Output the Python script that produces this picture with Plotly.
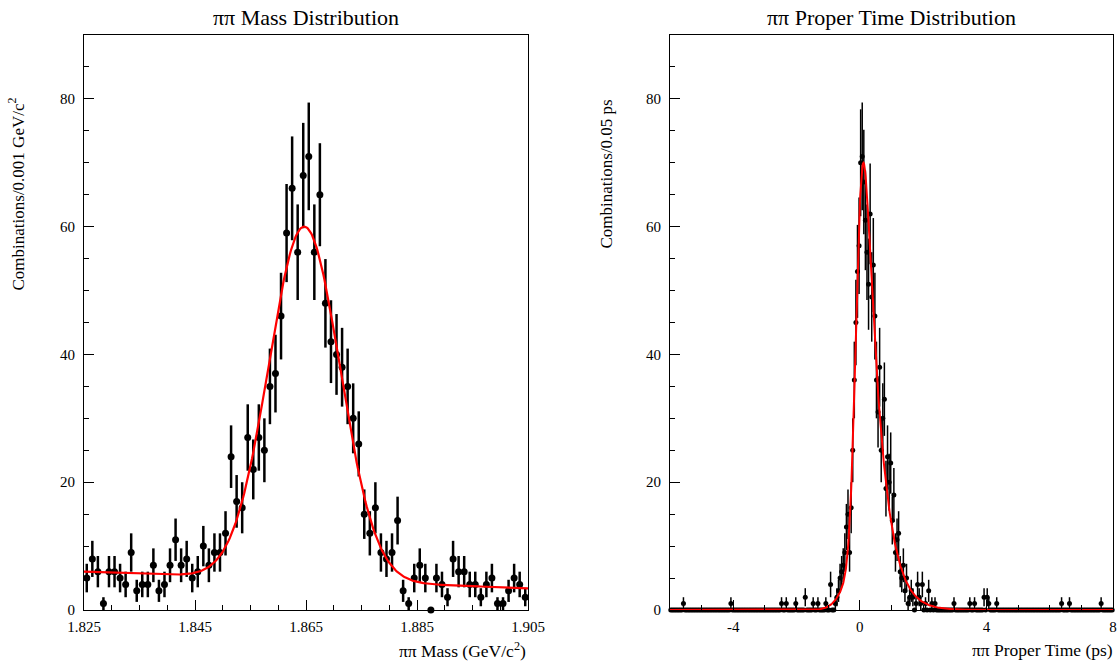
import math
import numpy as np
import plotly.graph_objects as go

# ---------------- data ----------------
# Left: pi-pi mass histogram, 80 bins of 0.001 GeV/c^2 from 1.825 to 1.905
mass_lo, mass_hi, mass_bin = 1.825, 1.905, 0.001
mass_counts = [5, 8, 6, 1, 6, 6, 5, 4, 9, 3,
               4, 4, 7, 3, 4, 7, 11, 7, 8, 5,
               6, 10, 7, 9, 9, 12, 24, 17, 16, 27,
               22, 27, 25, 35, 37, 46, 59, 66, 56, 68,
               71, 56, 65, 48, 42, 40, 38, 35, 30, 26,
               15, 12, 16, 9, 8, 9, 14, 3, 1, 5,
               7, 5, 0, 5, 4, 2, 8, 6, 6, 4,
               4, 2, 4, 5, 1, 1, 3, 5, 4, 2]
mass_ticks = [1.825, 1.845, 1.865, 1.885, 1.905]

# Right: pi-pi proper time histogram, 280 bins of 0.05 ps from -6 to 8
time_lo, time_hi, time_bin = -6.0, 8.0, 0.05
time_counts = [0, 0, 0, 0, 0, 0, 0, 0, 1, 0, 0, 0, 0, 0, 0, 0, 0, 0, 0, 0,
               0, 0, 0, 0, 0, 0, 0, 0, 0, 0, 0, 0, 0, 0, 0, 0, 0, 0, 1, 0,
               0, 0, 0, 0, 0, 0, 0, 0, 0, 0, 0, 0, 0, 0, 0, 0, 0, 0, 0, 0,
               0, 0, 0, 0, 0, 0, 0, 0, 0, 0, 1, 0, 0, 1, 0, 0, 0, 0, 0, 1,
               0, 0, 0, 0, 0, 2, 0, 0, 0, 0, 1, 0, 0, 1, 0, 0, 0, 0, 1, 0,
               0, 4, 0, 0, 1, 2, 3, 5, 6, 7, 9, 13, 15, 9, 16, 25, 36, 45, 53, 57,
               70, 71, 67, 61, 56, 51, 62, 49, 54, 46, 36, 31, 38, 25, 30, 33, 19, 24, 20, 23,
               14, 18, 9, 11, 12, 6, 5, 7, 3, 5, 1, 2, 3, 2, 0, 1, 4, 2, 1, 4,
               0, 1, 0, 3, 0, 1, 0, 1, 0, 0, 0, 0, 0, 0, 0, 0, 0, 0, 0, 1,
               0, 0, 0, 0, 0, 0, 0, 0, 0, 1, 0, 0, 1, 0, 0, 0, 0, 0, 2, 0,
               2, 1, 0, 0, 0, 0, 1, 0, 0, 0, 0, 0, 0, 0, 0, 0, 0, 0, 0, 0,
               0, 0, 0, 0, 0, 0, 0, 0, 0, 0, 0, 0, 0, 0, 0, 0, 0, 0, 0, 0,
               0, 0, 0, 0, 0, 0, 0, 1, 0, 0, 0, 0, 1, 0, 0, 0, 0, 0, 0, 0,
               0, 0, 0, 0, 0, 0, 0, 0, 0, 0, 0, 0, 1, 0, 0, 0, 0, 0, 0, 0]
time_tickvals = [-4, 0, 4, 8]
time_ticktext = ["-4", "0", "4", "8"]

# Fit parameters (gaussian + linear background; resolution-smeared exponential)
mass_fit_amp, mass_fit_mean, mass_fit_sigma = 55.3, 1.8647, 0.0064
mass_fit_bg_lo, mass_fit_bg_hi = 6.0, 3.4
time_fit_peak, time_fit_mu, time_fit_tau = 70.0, -0.08, 0.41
time_fit_sig1, time_fit_sig2, time_fit_frac2 = 0.17, 0.45, 0.25

# ---------------- derived ----------------
mass_centers = mass_lo + mass_bin * (np.arange(len(mass_counts)) + 0.5)
time_centers = time_lo + time_bin * (np.arange(len(time_counts)) + 0.5)
mass_err = np.sqrt(np.array(mass_counts, dtype=float))
time_err = np.sqrt(np.array(time_counts, dtype=float))

mx = np.linspace(mass_lo, mass_hi, 400)
my = (mass_fit_bg_lo + (mass_fit_bg_hi - mass_fit_bg_lo) * (mx - mass_lo) / (mass_hi - mass_lo)
      + mass_fit_amp * np.exp(-0.5 * ((mx - mass_fit_mean) / mass_fit_sigma) ** 2))

erfc = np.frompyfunc(math.erfc, 1, 1)


def exgauss(t, mu, s, tau):
    z = (t - mu)
    arg = (s / tau - z / s) / math.sqrt(2)
    expo = np.clip(s * s / (2 * tau * tau) - z / tau, -700, 700)
    return 0.5 / tau * np.exp(expo) * erfc(arg).astype(float)


tx = np.linspace(time_lo, time_hi, 1400)
ty = ((1 - time_fit_frac2) * exgauss(tx, time_fit_mu, time_fit_sig1, time_fit_tau)
      + time_fit_frac2 * exgauss(tx, time_fit_mu, time_fit_sig2, time_fit_tau))
ty = ty / ty.max() * time_fit_peak

# ---------------- figure ----------------
W, H = 1120, 665
FONT = "Liberation Serif"

fig = go.Figure()
fig.add_trace(go.Scatter(
    x=mass_centers, y=mass_counts, mode="markers", xaxis="x", yaxis="y",
    marker=dict(color="black", size=7),
    error_y=dict(type="data", array=mass_err, color="black", thickness=2.5, width=0),
    cliponaxis=False, showlegend=False, hoverinfo="x+y"))
fig.add_trace(go.Scatter(
    x=mx, y=my, mode="lines", xaxis="x", yaxis="y",
    line=dict(color="#ff0000", width=2.2), showlegend=False))

fig.add_trace(go.Scatter(
    x=time_centers, y=time_counts, mode="markers", xaxis="x2", yaxis="y2",
    marker=dict(color="black", size=5),
    error_y=dict(type="data", array=time_err, color="black", thickness=1.5, width=0),
    cliponaxis=False, showlegend=False, hoverinfo="x+y"))
fig.add_trace(go.Scatter(
    x=tx, y=ty, mode="lines", xaxis="x2", yaxis="y2",
    line=dict(color="#ff0000", width=2), showlegend=False))

ydom = [(H - 610) / H, (H - 35) / H]
axis_common = dict(showline=True, linecolor="black", linewidth=1, mirror=True,
                   showgrid=False, zeroline=False, ticks="inside", tickcolor="black",
                   tickwidth=1, automargin=False,
                   tickfont=dict(family=FONT, size=15, color="black"))
minor_y = dict(ticks="inside", ticklen=5, tickcolor="black",
               tickmode="linear", tick0=0, dtick=5)

fig.update_layout(
    template="none",
    width=W, height=H, margin=dict(l=0, r=0, t=0, b=0, autoexpand=False),
    paper_bgcolor="white", plot_bgcolor="white",
    font=dict(family=FONT, color="black"),
    xaxis=dict(domain=[84 / W, 528 / W], range=[mass_lo, mass_hi], anchor="y",
               tickmode="array", tickvals=mass_ticks,
               ticktext=[f"{v:.3f}" for v in mass_ticks], ticklen=10,
               ticklabelstandoff=3,
               minor=dict(ticks="inside", ticklen=5, tickcolor="black",
                          tickmode="linear", tick0=mass_lo, dtick=0.005),
               **axis_common),
    yaxis=dict(domain=ydom, range=[0, 90], anchor="x", tickmode="linear",
               tick0=0, dtick=20, ticklen=10, ticklabelstandoff=5,
               minor=minor_y, **axis_common),
    xaxis2=dict(domain=[670 / W, 1113 / W], range=[time_lo, time_hi], anchor="y2",
                tickmode="array", tickvals=time_tickvals, ticktext=time_ticktext,
                ticklen=10, ticklabelstandoff=3,
                minor=dict(ticks="inside", ticklen=5, tickcolor="black",
                           tickmode="linear", tick0=0, dtick=1),
                **axis_common),
    yaxis2=dict(domain=ydom, range=[0, 90], anchor="x2", tickmode="linear",
                tick0=0, dtick=20, ticklen=10, ticklabelstandoff=5,
                minor=minor_y, **axis_common),
)

ann = [
    dict(text="ππ Mass Distribution", x=306 / W, y=1 - 17 / H, size=22,
         xanchor="center", yanchor="middle", angle=0),
    dict(text="ππ Proper Time Distribution", x=891.5 / W, y=1 - 17 / H, size=22,
         xanchor="center", yanchor="middle", angle=0),
    dict(text="Combinations/0.001 GeV/c<sup>2</sup>", x=16 / W, y=1 - 96 / H, size=17,
         xanchor="center", yanchor="top", angle=-90),
    dict(text="Combinations/0.05 ps", x=606 / W, y=1 - 98 / H, size=17,
         xanchor="center", yanchor="top", angle=-90),
    dict(text="ππ Mass (GeV/c<sup>2</sup>)", x=528 / W, y=1 - 650 / H, size=17.5,
         xanchor="right", yanchor="middle", angle=0),
    dict(text="ππ Proper Time (ps)", x=1115 / W, y=1 - 650 / H, size=17.5,
         xanchor="right", yanchor="middle", angle=0),
]
for a in ann:
    fig.add_annotation(text=a["text"], x=a["x"], y=a["y"], xref="paper", yref="paper",
                       xanchor=a["xanchor"], yanchor=a["yanchor"], textangle=a["angle"],
                       showarrow=False, font=dict(family=FONT, size=a["size"], color="black"))

fig.write_html("out.html")
